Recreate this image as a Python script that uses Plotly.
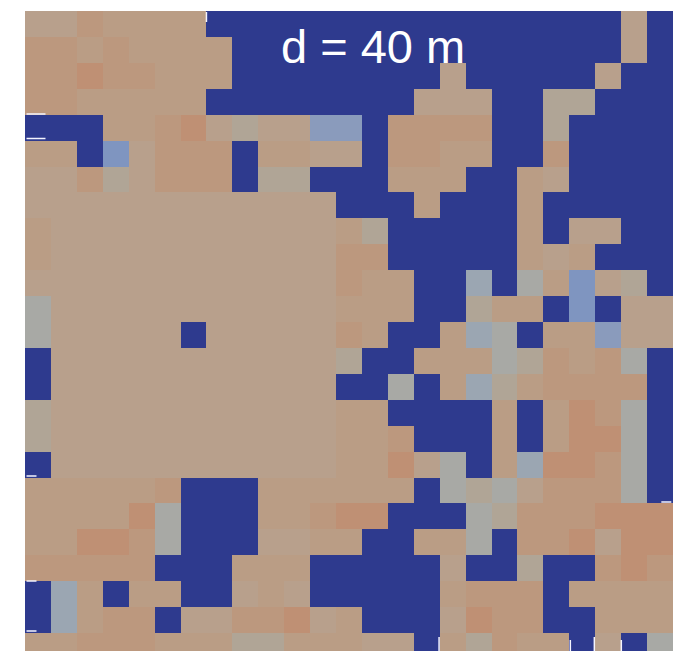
import plotly.graph_objects as go

# Class codes: 0 = navy, 1-3 = blue-greys, 4-5 = greys, 6-9 = tan to orange
row_00 = [6,6,8,7,7,7,7,0,0,0,0,0,0,0,0,0,0,0,0,0,0,0,0,6,0]
row_01 = [8,8,7,8,7,7,7,7,0,0,0,0,0,0,0,0,0,0,0,0,0,0,0,6,0]
row_02 = [8,8,9,8,8,7,7,7,0,0,0,0,0,0,0,0,6,0,0,0,0,0,6,0,0]
row_03 = [8,8,7,7,7,7,7,0,0,0,0,0,0,0,0,6,6,6,0,0,5,5,0,0,0]
row_04 = [0,0,0,7,7,8,9,6,5,6,6,2,2,0,8,8,8,8,0,0,5,0,0,0,0]
row_05 = [7,7,0,1,6,8,8,8,0,7,7,6,6,0,8,8,7,7,0,0,8,0,0,0,0]
row_06 = [6,6,8,5,6,8,8,8,0,5,5,0,0,0,7,7,7,0,0,7,6,0,0,0,0]
row_07 = [6,6,6,6,6,6,6,6,6,6,6,6,0,0,0,7,0,0,0,7,0,0,0,0,0]
row_08 = [7,6,6,6,6,6,6,6,6,6,6,6,7,5,0,0,0,0,0,7,0,6,6,0,0]
row_09 = [7,6,6,6,6,6,6,6,6,6,6,6,8,8,0,0,0,0,0,7,6,7,0,0,0]
row_10 = [6,6,6,6,6,6,6,6,6,6,6,6,8,7,7,0,0,3,0,4,7,1,6,5,0]
row_11 = [4,6,6,6,6,6,6,6,6,6,6,6,7,7,7,0,0,5,7,7,0,1,0,6,6]
row_12 = [4,6,6,6,6,6,0,6,6,6,6,6,8,7,0,0,7,3,4,0,7,7,2,6,6]
row_13 = [0,6,6,6,6,6,6,6,6,6,6,6,5,0,0,7,7,7,4,5,8,7,8,4,0]
row_14 = [0,6,6,6,6,6,6,6,6,6,6,6,0,0,4,0,7,3,5,7,8,8,8,8,0]
row_15 = [5,6,6,6,6,6,6,6,6,6,6,6,7,7,0,0,0,0,7,0,7,9,8,4,0]
row_16 = [5,6,6,6,6,6,6,6,6,6,6,6,7,7,8,0,0,0,7,0,7,9,9,4,0]
row_17 = [0,6,6,6,6,6,6,6,6,6,6,6,7,7,9,6,4,0,7,3,9,9,8,4,0]
row_18 = [7,7,7,7,7,8,0,0,0,7,7,7,7,7,7,0,4,5,4,6,8,8,8,4,0]
row_19 = [7,7,7,7,9,4,0,0,0,7,7,8,9,9,0,0,0,4,5,8,8,8,9,9,9]
row_20 = [7,7,9,9,8,4,0,0,0,6,6,7,7,0,0,7,7,4,0,8,8,9,6,9,9]
row_21 = [8,8,8,8,8,0,0,0,7,7,7,0,0,0,0,0,6,0,0,5,0,0,8,9,8]
row_22 = [0,3,7,0,7,7,0,0,6,7,6,0,0,0,0,0,7,8,8,8,0,7,7,7,7]
row_23 = [0,3,7,8,8,0,6,6,8,8,9,6,7,0,0,0,6,9,8,8,0,0,7,7,7]
row_24 = [7,7,8,8,8,7,7,7,5,5,7,7,7,6,6,0,7,5,8,7,7,0,6,0,4]

rows = [row_00,row_01,row_02,row_03,row_04,row_05,row_06,row_07,row_08,row_09,row_10,row_11,
        row_12,row_13,row_14,row_15,row_16,row_17,row_18,row_19,row_20,row_21,row_22,row_23,row_24]

palette = ["#2E3A8E","#7F95C0","#8A9BBC","#9BA6B2","#A8A9A5","#B0A596",
           "#B8A08C","#BA9D85","#BC987E","#BF9074"]
colorscale = [[i/9, c] for i, c in enumerate(palette)]

W, H, L, R, T, B = 684, 651, 24.5, 11.3, 11, 0
def px(x): return (x - L) / (W - L - R)
def py(y): return 1 - (y - T) / (H - T - B)

# Short white seams that sit on the edge of the mesh in the reference: (x0, y0, x1, y1)
seams = [(26,114,45,114),(26,138.5,45,138.5),(26,476,36,476),(26,581,36,581),(26,631,36,631),
         (206,12,206,22),(438.7,637,438.7,651),(594,637,594,651),(570,640,570,651),(621,640,621,651),
         (661,502,671,502)]

fig = go.Figure(go.Heatmap(z=rows, zmin=0, zmax=9, colorscale=colorscale, showscale=False, hoverinfo="skip"))
fig.add_annotation(text="d = 40 m", xref="paper", yref="paper", x=0.5365, y=0.945,
                   xanchor="center", yanchor="middle", showarrow=False,
                   font=dict(family="Liberation Sans", size=47, color="white"))
for x0, y0, x1, y1 in seams:
    fig.add_shape(type="line", xref="paper", yref="paper", x0=px(x0), y0=py(y0), x1=px(x1), y1=py(y1),
                  line=dict(color="#F4F4FF", width=1.5))
fig.update_layout(width=W, height=H, margin=dict(l=L, r=R, t=T, b=B, pad=0, autoexpand=False),
                  paper_bgcolor="white", plot_bgcolor="white",
                  xaxis=dict(visible=False, range=[-0.5, 24.5]),
                  yaxis=dict(visible=False, range=[24.21, -0.5]))
fig.write_html("out.html", config={"displayModeBar": False},
               post_script="document.body.style.margin='0';")
